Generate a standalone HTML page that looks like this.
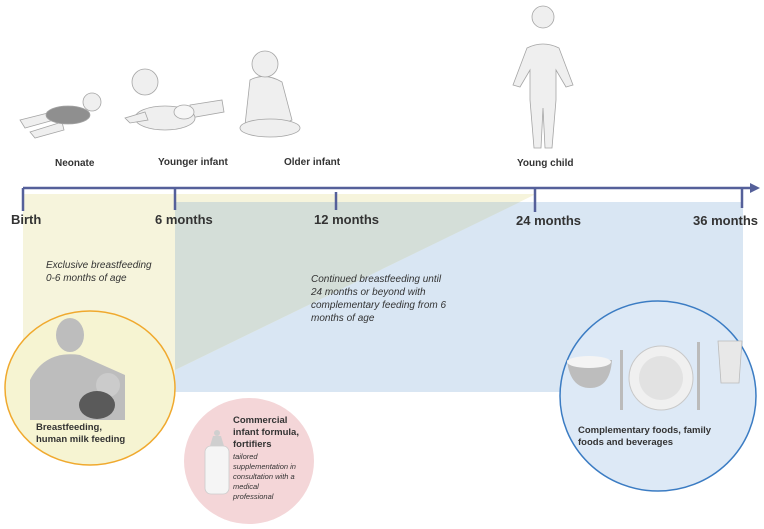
<!DOCTYPE html>
<html><head><meta charset="utf-8"><style>
html,body{margin:0;padding:0;background:#fff;}
svg{display:block;font-family:"Liberation Sans",sans-serif;}
.b{font-weight:bold;fill:#333;}
.i{font-style:italic;fill:#333;}
.fig{fill:#efefef;stroke:#a5a5a5;stroke-width:0.8;}
</style></head><body>
<svg width="764" height="529" viewBox="0 0 764 529" xmlns="http://www.w3.org/2000/svg">
<!-- regions -->
<rect x="175" y="202" width="568" height="190" fill="#d9e6f3"/>
<polygon points="23,194 536,194 175,370 175,385 23,385" fill="#f6f4dc"/>
<polygon points="175,202 520,202 175,370" fill="#d4ded8"/>
<!-- axis -->
<line x1="23" y1="188" x2="752" y2="188" stroke="#55609a" stroke-width="2.5"/>
<polygon points="750,183 760,188 750,193" fill="#55609a"/>
<g stroke="#55609a" stroke-width="2.5">
<line x1="23" y1="188" x2="23" y2="211"/>
<line x1="175" y1="188" x2="175" y2="210"/>
<line x1="336" y1="192" x2="336" y2="210"/>
<line x1="535" y1="188" x2="535" y2="212"/>
<line x1="742" y1="188" x2="742" y2="208"/>
</g>
<g class="b" font-size="13">
<text x="11" y="224">Birth</text>
<text x="155" y="224">6 months</text>
<text x="314" y="224">12 months</text>
<text x="516" y="225">24 months</text>
<text x="693" y="225">36 months</text>
</g>
<g class="b" font-size="10">
<text x="55" y="166">Neonate</text>
<text x="158" y="165">Younger infant</text>
<text x="284" y="165">Older infant</text>
<text x="517" y="166">Young child</text>
</g>
<!-- figures -->
<g class="fig">
<path d="M20 120 L52 112 L54 120 L25 128Z"/>
<path d="M30 132 L62 122 L64 130 L35 138Z"/>
<ellipse cx="68" cy="115" rx="22" ry="9" fill="#8f8f8f"/>
<circle cx="92" cy="102" r="9"/>
<path d="M190 105 L222 100 L224 112 L190 118Z"/>
<ellipse cx="165" cy="118" rx="30" ry="12"/>
<ellipse cx="184" cy="112" rx="10" ry="7" fill="#f6f6f6"/>
<circle cx="145" cy="82" r="13"/>
<path d="M125 118 L145 112 L148 120 L130 123Z"/>
<path d="M250 80 Q265 72 282 82 L292 120 Q270 132 245 125 Z"/>
<ellipse cx="270" cy="128" rx="30" ry="9"/>
<circle cx="265" cy="64" r="13"/>
<path d="M527 48 Q543 40 559 48 L573 85 L566 87 L556 70 L556 100 L552 148 L545 148 L543 108 L541 148 L534 148 L530 100 L530 70 L520 87 L513 85Z"/>
<circle cx="543" cy="17" r="11"/>
</g>
<!-- italic texts -->
<g class="i" font-size="10">
<text x="46" y="268">Exclusive breastfeeding</text>
<text x="46" y="281">0-6 months of age</text>
<text x="311" y="282">Continued breastfeeding until</text>
<text x="311" y="295">24 months or beyond with</text>
<text x="311" y="308">complementary feeding from 6</text>
<text x="311" y="321">months of age</text>
</g>
<!-- yellow circle -->
<ellipse cx="90" cy="388" rx="85" ry="77" fill="#f6f4d2" stroke="#f0a92e" stroke-width="1.5"/>
<g fill="#bdbdbd">
<ellipse cx="70" cy="335" rx="14" ry="17"/>
<path d="M30 380 Q45 350 80 355 L125 375 L125 420 L30 420Z"/>
</g>
<circle cx="108" cy="385" r="12" fill="#cbcbcb"/>
<ellipse cx="97" cy="405" rx="18" ry="14" fill="#5a5a5a"/>
<g class="b" font-size="9.5"><text x="36" y="430">Breastfeeding,</text><text x="36" y="442">human milk feeding</text></g>
<!-- pink circle -->
<ellipse cx="249" cy="461" rx="65" ry="63" fill="#f4d6d8"/>
<rect x="205" y="446" width="24" height="48" rx="6" fill="#f5f5f5" stroke="#ccc" stroke-width="0.8"/>
<path d="M210 446 L213 436 L221 436 L224 446Z" fill="#cfcfcf"/>
<circle cx="217" cy="433" r="3" fill="#cfcfcf"/>
<g class="b" font-size="9.5"><text x="233" y="423">Commercial</text><text x="233" y="435">infant formula,</text><text x="233" y="447">fortifiers</text></g>
<g class="i" font-size="7.5" fill="#555"><text x="233" y="459">tailored</text><text x="233" y="469">supplementation in</text><text x="233" y="479">consultation with a</text><text x="233" y="489">medical</text><text x="233" y="499">professional</text></g>
<!-- blue circle -->
<ellipse cx="658" cy="396" rx="98" ry="95" fill="#dde9f6" stroke="#3b7cc3" stroke-width="1.5"/>
<path d="M567 360 L612 360 Q610 388 590 388 Q570 388 567 360Z" fill="#bdbdbd"/>
<ellipse cx="589" cy="362" rx="22" ry="6" fill="#f4f4f4"/>
<rect x="620" y="350" width="3" height="60" fill="#bbb"/>
<circle cx="661" cy="378" r="32" fill="#f0f0f0" stroke="#c8c8c8"/>
<circle cx="661" cy="378" r="22" fill="#e2e2e2"/>
<rect x="697" y="342" width="3" height="68" fill="#bbb"/>
<path d="M718 341 L742 341 L739 383 L721 383Z" fill="#e8e8e8" stroke="#bbb" stroke-width="0.8"/>
<g class="b" font-size="9.5"><text x="578" y="433">Complementary foods, family</text><text x="578" y="445">foods and beverages</text></g>
</svg>
</body></html>
